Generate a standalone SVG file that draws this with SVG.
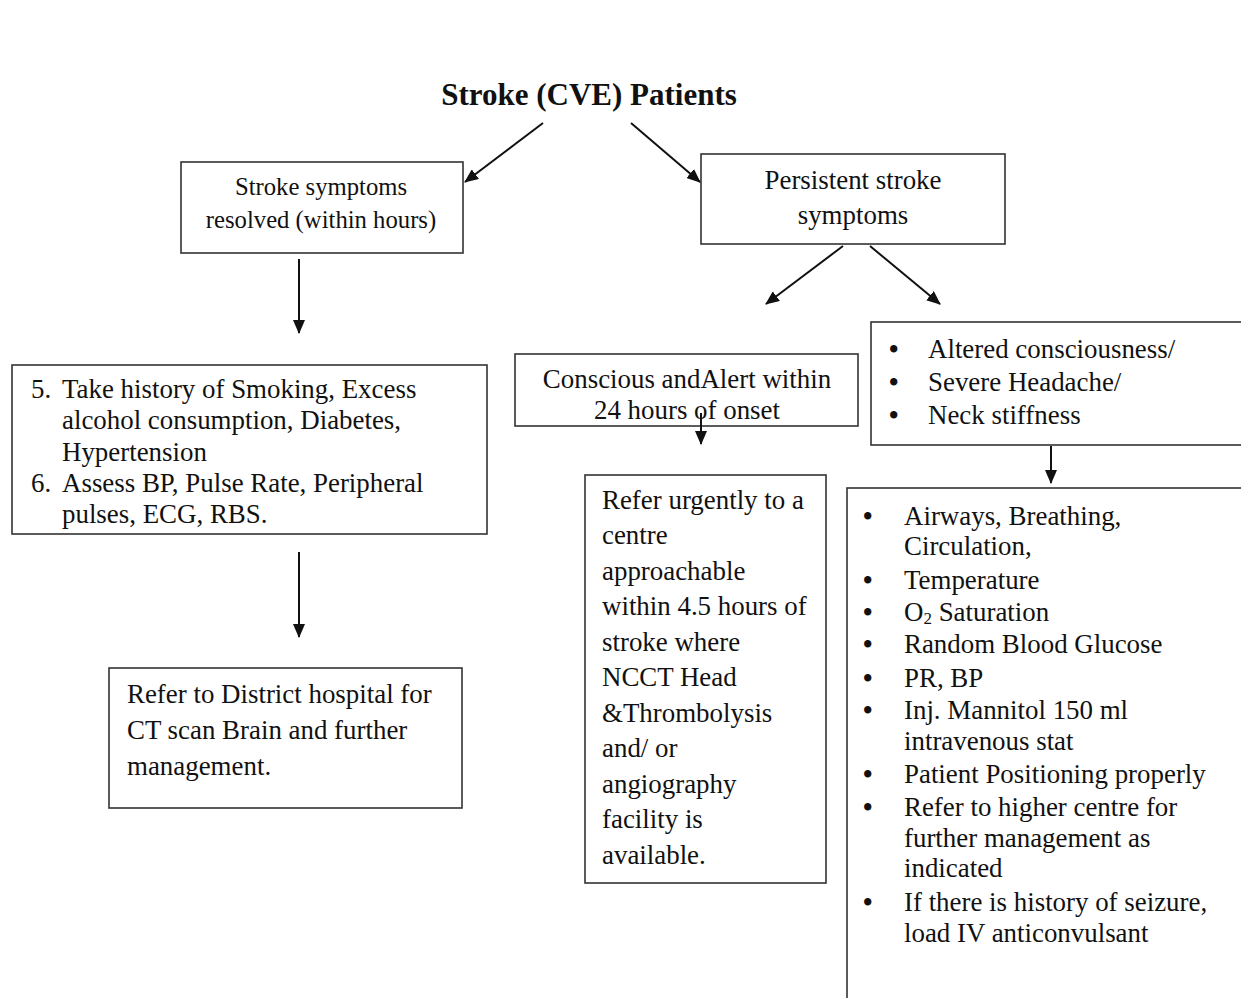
<svg xmlns="http://www.w3.org/2000/svg" width="1241" height="998" viewBox="0 0 1241 998">
<style>
text{font-family:"Liberation Serif","Times New Roman",serif;fill:#111;}
.s{font-size:24.7px;}
.m{font-size:26.9px;}
.b{font-size:26.9px;font-weight:bold;}
.c{text-anchor:middle;}
.box{fill:#fff;stroke:#333;stroke-width:1.6;}
.ln{stroke:#111;stroke-width:2;fill:none;marker-end:url(#ah);}
</style>
<defs>
<marker id="ah" markerWidth="14" markerHeight="12" refX="13" refY="6" orient="auto" markerUnits="userSpaceOnUse" viewBox="0 0 14 12">
<path d="M0,0 L14,6 L0,12 Z" fill="#111"/>
</marker>
</defs>
<rect width="1241" height="998" fill="#fff"/>
<g id="title">
<text x="589" y="105" class="c" style="font-size:31px;font-weight:bold">Stroke (CVE) Patients</text>
</g>
<g id="n1">
<rect class="box" x="181" y="162" width="282" height="91"/>
<text class="s c" x="321" y="195">Stroke symptoms</text>
<text class="s c" x="321" y="228">resolved (within hours)</text>
</g>
<g id="n2">
<rect class="box" x="701" y="154" width="304" height="90"/>
<text class="m c" x="853" y="189">Persistent stroke</text>
<text class="m c" x="853" y="224">symptoms</text>
</g>
<g id="n3">
<rect class="box" x="12" y="365" width="475" height="169"/>
<text class="m" x="31" y="398">5.</text>
<text class="m" x="62" y="398">Take history of Smoking, Excess</text>
<text class="m" x="62" y="429">alcohol consumption, Diabetes,</text>
<text class="m" x="62" y="461">Hypertension</text>
<text class="m" x="31" y="492">6.</text>
<text class="m" x="62" y="492">Assess BP, Pulse Rate, Peripheral</text>
<text class="m" x="62" y="523">pulses, ECG, RBS.</text>
</g>
<g id="n4">
<rect class="box" x="109" y="668" width="353" height="140"/>
<text class="m" x="127" y="703">Refer to District hospital for</text>
<text class="m" x="127" y="739">CT scan Brain and further</text>
<text class="m" x="127" y="775">management.</text>
</g>
<g id="n5">
<rect class="box" x="515" y="354" width="343" height="72"/>
<text class="m c" x="687" y="388">Conscious andAlert within</text>
<text class="m c" x="687" y="419">24 hours of onset</text>
</g>
<g id="n6">
<rect class="box" x="871" y="322" width="380" height="123"/>
<text class="b" x="889" y="358">•</text>
<text class="m" x="928" y="358">Altered consciousness/</text>
<text class="b" x="889" y="391">•</text>
<text class="m" x="928" y="391">Severe Headache/</text>
<text class="b" x="889" y="424">•</text>
<text class="m" x="928" y="424">Neck stiffness</text>
</g>
<g id="n7">
<rect class="box" x="585" y="475" width="241" height="408"/>
<text class="m" x="602" y="509">Refer urgently to a</text>
<text class="m" x="602" y="544">centre</text>
<text class="m" x="602" y="580">approachable</text>
<text class="m" x="602" y="615">within 4.5 hours of</text>
<text class="m" x="602" y="651">stroke where</text>
<text class="m" x="602" y="686">NCCT Head</text>
<text class="m" x="602" y="722">&amp;Thrombolysis</text>
<text class="m" x="602" y="757">and/ or</text>
<text class="m" x="602" y="793">angiography</text>
<text class="m" x="602" y="828">facility is</text>
<text class="m" x="602" y="864">available.</text>
</g>
<g id="n8">
<rect class="box" x="847" y="488" width="410" height="530"/>
<text class="b" x="863" y="525">•</text>
<text class="m" x="904" y="525">Airways, Breathing,</text>
<text class="m" x="904" y="555">Circulation,</text>
<text class="b" x="863" y="589">•</text>
<text class="m" x="904" y="589">Temperature</text>
<text class="b" x="863" y="621">•</text>
<text class="m" x="904" y="621">O<tspan style="font-size:17px" dy="3">2</tspan><tspan dy="-3"> Saturation</tspan></text>
<text class="b" x="863" y="653">•</text>
<text class="m" x="904" y="653">Random Blood Glucose</text>
<text class="b" x="863" y="687">•</text>
<text class="m" x="904" y="687">PR, BP</text>
<text class="b" x="863" y="719">•</text>
<text class="m" x="904" y="719">Inj. Mannitol 150 ml</text>
<text class="m" x="904" y="750">intravenous stat</text>
<text class="b" x="863" y="783">•</text>
<text class="m" x="904" y="783">Patient Positioning properly</text>
<text class="b" x="863" y="816">•</text>
<text class="m" x="904" y="816">Refer to higher centre for</text>
<text class="m" x="904" y="847">further management as</text>
<text class="m" x="904" y="877">indicated</text>
<text class="b" x="863" y="911">•</text>
<text class="m" x="904" y="911">If there is history of seizure,</text>
<text class="m" x="904" y="942">load IV anticonvulsant</text>
</g>
<g id="connectors">
<line class="ln" x1="543" y1="123" x2="465" y2="182"/>
<line class="ln" x1="631" y1="123" x2="700" y2="182"/>
<line class="ln" x1="299" y1="259" x2="299" y2="333"/>
<line class="ln" x1="299" y1="552" x2="299" y2="637"/>
<line class="ln" x1="843" y1="246" x2="766" y2="304"/>
<line class="ln" x1="870" y1="246" x2="940" y2="304"/>
<line class="ln" x1="701" y1="413" x2="701" y2="444"/>
<line class="ln" x1="1051" y1="446" x2="1051" y2="483"/>
</g>
</svg>
